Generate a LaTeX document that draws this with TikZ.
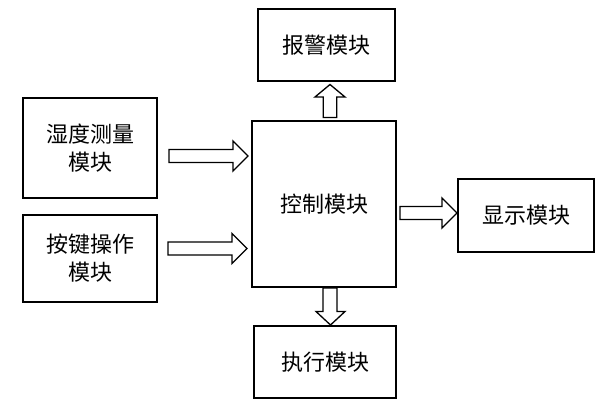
\documentclass[tikz,border=0pt]{standalone}
\usepackage{fontspec}
\setmainfont{Noto Sans CJK SC}
\begin{document}
\begin{tikzpicture}[x=1pt,y=-1pt,
  box/.style={draw, line width=1.8pt, inner sep=0pt, align=center,
    font=\fontsize{22}{28}\selectfont},
  fat/.style={draw, line width=1.3pt, line join=miter}]
\useasboundingbox (0,0) rectangle (607,412);
\node[box, minimum width=137pt, minimum height=72pt] (alarm) at (326.5,45) {报警模块};
\node[box, minimum width=134pt, minimum height=100pt] (hum) at (90,148) {湿度测量\\模块};
\node[box, minimum width=134pt, minimum height=87pt] (key) at (90,258.5) {按键操作\\模块};
\node[box, minimum width=144pt, minimum height=166pt] (ctrl) at (324,204) {控制模块};
\node[box, minimum width=136pt, minimum height=73pt] (disp) at (526,215.5) {显示模块};
\node[box, minimum width=142pt, minimum height=72pt] (exec) at (325,362) {执行模块};
% hollow arrows
\draw[fat] (169,149.5) -- (233,149.5) -- (233,141) -- (248,156) -- (233,171) -- (233,162.5) -- (169,162.5) -- cycle;
\draw[fat] (168,242) -- (232,242) -- (232,233.5) -- (247,248.5) -- (232,263.5) -- (232,255) -- (168,255) -- cycle;
\draw[fat] (400,206.5) -- (442,206.5) -- (442,198) -- (457,213) -- (442,228) -- (442,219.5) -- (400,219.5) -- cycle;
\draw[fat] (323.3,117.5) -- (323.3,97) -- (315,97) -- (330,84.5) -- (345,97) -- (336.7,97) -- (336.7,117.5) -- cycle;
\draw[fat] (323,288) -- (323,311.5) -- (316,311.5) -- (330.5,325) -- (345,311.5) -- (337,311.5) -- (337,288) -- cycle;
\end{tikzpicture}
\end{document}
